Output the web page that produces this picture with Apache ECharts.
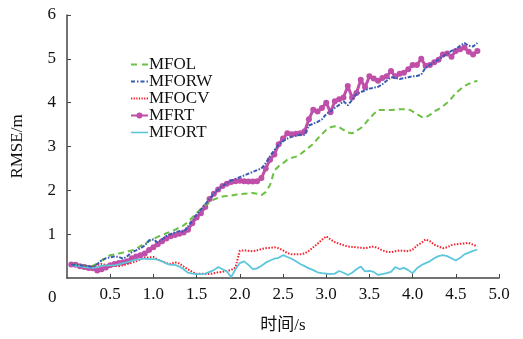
<!DOCTYPE html>
<html><head><meta charset="utf-8">
<script src="https://cdn.jsdelivr.net/npm/echarts@6/dist/echarts.min.js"></script>
<style>html,body{margin:0;padding:0;background:#fff}#c{width:523px;height:339px}</style>
</head><body><div id="c"></div>
<script>
var timeS = [];
for (var i = 1; i <= 95; i++) timeS.push(+(i * 0.05).toFixed(2));
var xTicks = ['0','0.5','1.0','1.5','2.0','2.5','3.0','3.5','4.0','4.5','5.0'];
var yTicks = ['0','1','2','3','4','5','6'];
var seriesNames = ['MFOL','MFORW','MFOCV','MFRT','MFORT'];

var MFOL = [0.30,0.30,0.29,0.28,0.27,0.28,0.33,0.40,0.46,0.52,
0.54,0.56,0.58,0.61,0.63,0.67,0.73,0.78,0.84,0.89,
0.94,0.98,1.02,1.06,1.10,1.15,1.20,1.28,1.38,1.48,
1.58,1.66,1.72,1.79,1.83,1.86,1.87,1.88,1.90,1.91,
1.92,1.93,1.94,1.92,1.89,1.96,2.12,2.45,2.55,2.62,
2.70,2.74,2.77,2.82,2.90,2.98,3.06,3.18,3.28,3.38,
3.44,3.46,3.44,3.38,3.32,3.30,3.36,3.42,3.52,3.64,
3.74,3.83,3.83,3.83,3.83,3.84,3.85,3.85,3.85,3.80,
3.74,3.68,3.66,3.72,3.80,3.85,3.92,4.00,4.10,4.22,
4.30,4.38,4.43,4.47,4.50];
var MFORW = [0.30,0.30,0.29,0.28,0.27,0.25,0.32,0.40,0.45,0.47,
0.49,0.48,0.44,0.50,0.59,0.63,0.68,0.74,0.86,0.88,
0.81,0.88,0.96,1.00,1.04,1.07,1.05,1.18,1.30,1.45,
1.56,1.68,1.80,1.92,2.02,2.10,2.16,2.22,2.26,2.30,
2.34,2.38,2.42,2.46,2.50,2.62,2.78,2.92,3.04,3.12,
3.18,3.22,3.25,3.27,3.27,3.48,3.52,3.56,3.62,3.74,
3.80,3.88,3.95,4.03,3.94,4.06,4.20,4.24,4.28,4.32,
4.34,4.36,4.42,4.50,4.58,4.57,4.54,4.56,4.58,4.60,
4.61,4.64,4.80,4.86,4.92,4.98,5.05,5.12,5.18,5.22,
5.30,5.36,5.30,5.28,5.36];
var MFOCV = [0.30,0.30,0.28,0.27,0.26,0.25,0.29,0.32,0.30,0.29,
0.28,0.27,0.29,0.32,0.35,0.38,0.42,0.47,0.47,0.48,
0.42,0.38,0.34,0.32,0.36,0.33,0.26,0.20,0.14,0.09,
0.10,0.09,0.09,0.11,0.13,0.14,0.16,0.18,0.24,0.62,
0.63,0.62,0.61,0.63,0.66,0.68,0.69,0.70,0.68,0.63,
0.57,0.54,0.54,0.54,0.56,0.62,0.70,0.78,0.87,0.95,
0.88,0.82,0.78,0.75,0.72,0.71,0.70,0.69,0.68,0.70,
0.72,0.68,0.63,0.60,0.59,0.61,0.63,0.62,0.61,0.65,
0.74,0.80,0.88,0.84,0.76,0.72,0.68,0.70,0.75,0.77,
0.78,0.79,0.80,0.76,0.72];
var MFRT = [0.31,0.30,0.27,0.25,0.23,0.22,0.17,0.20,0.24,0.29,
0.32,0.34,0.36,0.38,0.45,0.49,0.52,0.56,0.64,0.70,
0.77,0.84,0.90,0.95,0.98,1.01,1.04,1.10,1.25,1.38,
1.48,1.62,1.80,1.92,2.02,2.10,2.15,2.19,2.21,2.22,
2.21,2.20,2.20,2.21,2.28,2.50,2.70,2.82,3.05,3.18,
3.30,3.28,3.29,3.30,3.35,3.62,3.84,3.80,3.88,4.00,
3.78,4.03,4.08,4.12,4.38,4.12,4.22,4.52,4.35,4.60,
4.55,4.50,4.56,4.60,4.72,4.60,4.66,4.68,4.76,4.86,
4.86,5.00,4.84,4.86,4.92,4.98,5.10,5.12,5.05,5.18,
5.22,5.26,5.16,5.10,5.18];
var MFORT = [0.29,0.28,0.27,0.25,0.24,0.23,0.25,0.28,0.29,0.29,
0.29,0.31,0.34,0.36,0.39,0.42,0.43,0.44,0.43,0.43,
0.42,0.38,0.33,0.30,0.30,0.26,0.20,0.12,0.10,0.09,
0.09,0.10,0.14,0.18,0.25,0.20,0.15,0.02,0.20,0.34,
0.38,0.30,0.20,0.22,0.28,0.35,0.40,0.44,0.46,0.52,
0.48,0.44,0.38,0.32,0.27,0.22,0.18,0.13,0.11,0.10,
0.09,0.10,0.16,0.12,0.07,0.12,0.20,0.26,0.15,0.16,
0.14,0.07,0.09,0.11,0.14,0.25,0.20,0.23,0.18,0.11,
0.22,0.29,0.34,0.38,0.45,0.50,0.52,0.50,0.45,0.40,
0.46,0.54,0.58,0.62,0.65];

var FONT = '"Liberation Serif", "Noto Sans CJK SC", serif';
var COLORS = ['#6cc045','#3a5bb5','#f5222d','#bf4fa8','#5cc6dd'];
function pairs(v){ return timeS.map(function(t,i){ return [t, v[i]]; }); }

// legend icon shapes (line samples)
var ICONS = [
  'path://M0,-1h6v2h-6z M11,-1h6v2h-6z',
  'path://M0,-1h4v2h-4z M6,-1h1.5v2h-1.5z M9.5,-1h4v2h-4z M15.5,-1h1.5v2h-1.5z',
  'path://M0,-1h1.3v2h-1.3z M2.6,-1h1.3v2h-1.3z M5.2,-1h1.3v2h-1.3z M7.8,-1h1.3v2h-1.3z M10.4,-1h1.3v2h-1.3z M13,-1h1.3v2h-1.3z M15.6,-1h1.3v2h-1.3z',
  'path://M0,-1h6v2h-6z M11,-1h6v2h-6z M5.5,0a3,3 0 1,1 6,0a3,3 0 1,1 -6,0z',
  'path://M0,-0.8h17v1.6h-17z'
];

var chart = echarts.init(document.getElementById('c'), null, {renderer:'canvas'});
var axisCol = '#444';
chart.setOption({
  animation: false,
  backgroundColor: '#fff',
  grid: {left: 67, right: 24, top: 15, bottom: 58},
  legend: {
    orient: 'vertical', left: 126, top: 51, itemGap: 0,
    itemWidth: 17, itemHeight: 16, symbolKeepAspect: true,
    textStyle: {fontFamily: FONT, fontSize: 17, color: '#111', padding: [0,0,0,-4]},
    data: seriesNames.map(function(n, i){ return {name: n, icon: ICONS[i], itemStyle: {color: COLORS[i]}}; })
  },
  xAxis: {
    type: 'value', min: 0, max: 5, interval: 0.5,
    name: '时间/s', nameLocation: 'middle', nameGap: 39,
    nameTextStyle: {fontFamily: FONT, fontSize: 17, color: '#111'},
    axisLine: {onZero: false, lineStyle: {color: axisCol, width: 1.5}},
    axisTick: {inside: true, length: 4, lineStyle: {color: axisCol}},
    splitLine: {show: false},
    axisLabel: {fontFamily: FONT, fontSize: 17, color: '#111', margin: 8, showMinLabel: false,
      formatter: function(v){ var k = Math.round(v / 0.5); return xTicks[k]; }}
  },
  yAxis: {
    type: 'value', min: 0, max: 6, interval: 1,
    name: 'RMSE/m', nameLocation: 'middle', nameGap: 41,
    nameTextStyle: {fontFamily: FONT, fontSize: 17, color: '#111'},
    axisLine: {show: true, lineStyle: {color: axisCol, width: 1.5}},
    axisTick: {show: true, inside: true, length: 4, lineStyle: {color: axisCol}},
    splitLine: {show: false},
    axisLabel: {fontFamily: FONT, fontSize: 17, color: '#111', margin: 11, showMinLabel: false,
      formatter: function(v){ return yTicks[Math.round(v)]; }}
  },
  graphic: [{type: 'text', left: 48, top: 289, style: {text: xTicks[0], font: '17px ' + FONT, fill: '#111'}}],
  series: [
    {name: seriesNames[0], type: 'line', data: pairs(MFOL), showSymbol: false, symbol: 'none', z: 2,
     lineStyle: {color: COLORS[0], width: 2, type: [6, 4]}, itemStyle: {color: COLORS[0]}},
    {name: seriesNames[1], type: 'line', data: pairs(MFORW), showSymbol: false, symbol: 'none', z: 3,
     lineStyle: {color: COLORS[1], width: 2, type: [4, 1.5, 1.5, 1.5]}, itemStyle: {color: COLORS[1]}},
    {name: seriesNames[2], type: 'line', data: pairs(MFOCV), showSymbol: false, symbol: 'none', z: 2,
     lineStyle: {color: COLORS[2], width: 2, type: [1.5, 1.5]}, itemStyle: {color: COLORS[2]}},
    {name: seriesNames[3], type: 'line', data: pairs(MFRT), symbol: 'circle', symbolSize: 6, showSymbol: true, z: 1,
     lineStyle: {color: COLORS[3], width: 3}, itemStyle: {color: COLORS[3]}},
    {name: seriesNames[4], type: 'line', data: pairs(MFORT), showSymbol: false, symbol: 'none', z: 2,
     lineStyle: {color: COLORS[4], width: 1.8}, itemStyle: {color: COLORS[4]}}
  ]
});
</script></body></html>
